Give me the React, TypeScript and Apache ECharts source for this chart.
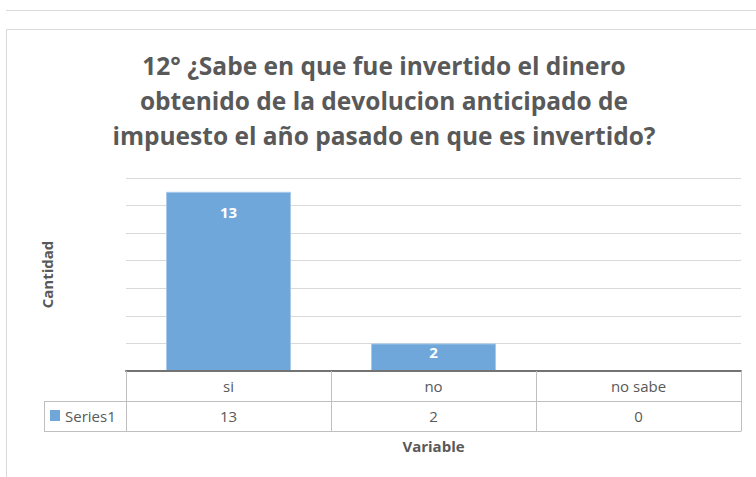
import React, { useEffect, useRef } from "react";
import * as echarts from "echarts";

const categories = ["si", "no", "no sabe"];
const values = [13, 2, 0];
const seriesName = "Series1";
const titleLines = [
  "12° ¿Sabe en que fue invertido el dinero",
  "obtenido de la devolucion anticipado de",
  "impuesto el año pasado en que es invertido?",
];
const yAxisName = "Cantidad";
const xAxisName = "Variable";

const TEXT = "#595959";
const GRID = "#d9d9d9";
const TABLE = "#bfbfbf";
const BAR = "#70a7db";
const FONT = "'Open Sans', 'Noto Sans', sans-serif";

export default function App() {
  const ref = useRef<HTMLDivElement>(null);
  useEffect(() => {
    if (!ref.current) return;
    const chart = echarts.init(ref.current, undefined, { renderer: "svg" });
    const maxV = 14;
    const data = values.map((v) => ({
      value: v,
      label: {
        show: v > 0,
        position: "insideTop",
        distance: v / maxV > 0.3 ? 13 : 1,
      },
    }));
    chart.setOption({
      animation: false,
      backgroundColor: "#ffffff",
      textStyle: { fontFamily: FONT },
      grid: { left: 126, right: 15, top: 178, bottom: 106, containLabel: false },
      xAxis: [
        {
          type: "category",
          data: categories,
          position: "bottom",
          axisLine: { show: true, lineStyle: { color: "#737373", width: 2 } },
          axisTick: { show: true, length: 60, alignWithLabel: false, lineStyle: { color: TABLE } },
          axisLabel: { color: TEXT, fontSize: 15, margin: 7, fontFamily: FONT },
          splitLine: { show: false },
          z: 5,
        },
        {
          type: "category",
          data: categories,
          position: "bottom",
          offset: 30,
          axisLine: { show: true, lineStyle: { color: TABLE, width: 1 } },
          axisTick: { show: false },
          axisLabel: {
            color: TEXT,
            fontSize: 15,
            margin: 7,
            fontFamily: FONT,
            formatter: (_v: string, i: number) => String(values[i]),
          },
        },
        {
          type: "category",
          data: categories,
          position: "bottom",
          offset: 60,
          axisLine: { show: true, lineStyle: { color: TABLE, width: 1 } },
          axisTick: { show: false },
          axisLabel: { show: false },
          name: xAxisName,
          nameLocation: "middle",
          nameGap: 7,
          nameTextStyle: { color: TEXT, fontSize: 15, fontWeight: "bold", fontFamily: FONT },
        },
      ],
      yAxis: {
        type: "value",
        min: 0,
        max: maxV,
        interval: 2,
        axisLine: { show: false },
        axisTick: { show: false },
        axisLabel: { show: false },
        splitLine: { lineStyle: { color: GRID, width: 1 } },
        name: yAxisName,
        nameLocation: "middle",
        nameRotate: 90,
        nameGap: 72,
        nameTextStyle: { color: TEXT, fontSize: 15, fontWeight: "bold", fontFamily: FONT },
      },
      series: [
        {
          type: "bar",
          name: seriesName,
          xAxisIndex: 0,
          data,
          barWidth: "61%",
          itemStyle: { color: BAR, borderColor: "#a9c9ea", borderWidth: 1 },
          label: {
            color: "#ffffff",
            fontSize: 15,
            fontWeight: "bold",
            fontFamily: FONT,
          },
        },
      ],
      graphic: [
        { type: "line", shape: { x1: 6, y1: 10.5, x2: 756, y2: 10.5 }, style: { stroke: GRID, lineWidth: 1 } },
        { type: "rect", shape: { x: 6.5, y: 29.5, width: 800, height: 500 }, style: { stroke: GRID, fill: "none", lineWidth: 1 } },
        {
          type: "text",
          x: 384,
          y: 48,
          style: {
            text: titleLines.join("\n"),
            fill: TEXT,
            font: `bold 24.5px ${FONT}`,
            lineHeight: 35,
            align: "center",
            verticalAlign: "top",
          },
        },
        { type: "line", shape: { x1: 44, y1: 401.5, x2: 126, y2: 401.5 }, style: { stroke: TABLE, lineWidth: 1 } },
        { type: "line", shape: { x1: 44, y1: 431.5, x2: 126, y2: 431.5 }, style: { stroke: TABLE, lineWidth: 1 } },
        { type: "line", shape: { x1: 44.5, y1: 401, x2: 44.5, y2: 432 }, style: { stroke: TABLE, lineWidth: 1 } },
        { type: "rect", shape: { x: 50, y: 410, width: 10, height: 11 }, style: { fill: BAR } },
        {
          type: "text",
          x: 65,
          y: 416,
          style: { text: seriesName, fill: TEXT, font: `15px ${FONT}`, verticalAlign: "middle", align: "left" },
        },
      ],
    });
    return () => chart.dispose();
  }, []);
  return (
    <div
      ref={ref}
      style={{ position: "fixed", left: 0, top: 0, width: 756, height: 477, background: "#fff" }}
    />
  );
}
